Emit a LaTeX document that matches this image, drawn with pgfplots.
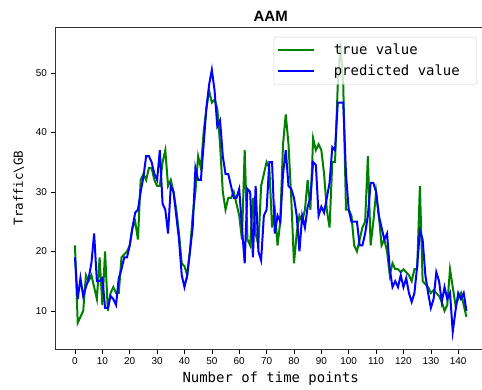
\documentclass[border=0pt]{standalone}
\usepackage{fontspec}
\setmainfont{Liberation Sans}
\newfontfamily\monofont{DejaVu Sans Mono}
\usepackage{pgfplots}
\usepackage{pgfplotstable}
\pgfplotsset{compat=1.18}
\definecolor{mplgreen}{rgb}{0,0.5,0}
\definecolor{mplblue}{rgb}{0,0,1}

\pgfplotstableread{
x true pred
0 21 19
1 8 12
2 9 15.5
3 10 12.5
4 16 14
5 15 15.5
6 16 18
7 14 23
8 12 15
9 19 15
10 11 15.5
11 20 10.5
12 10 10.5
13 13 12.5
14 14 12
15 13 11
16 13 15.5
17 19 17
18 19.5 19
19 20 19
20 21 21
21 24 24
22 25 26.5
23 22 27
24 32 30
25 33 32.5
26 32 36
27 34 36
28 34 35
29 32 33
30 31 32
31 31 37
32 35 28
33 37 27
34 31 23
35 32 31
36 30 30
37 27 26
38 23 22
39 18 16
40 17.5 14
41 16 16
42 20 20
43 26 24
44 30 34
45 36 32
46 34 32
47 40 38
48 44 44
49 47 48
50 45 50.5
51 45.5 47
52 44 41
53 38 42
54 30 36
55 27 33
56 29 33
57 29 31
58 30 29
59 28 29
60 26 30.5
61 22 24
62 37 18
63 22 30.5
64 21 30
65 29 19
66 23 31
67 21 20
68 31 18.5
69 33 26
70 35 27
71 34 35
72 24 35
73 27 23
74 21 26
75 25 25
76 38 33
77 43 37
78 38 31
79 29 30.5
80 18 29
81 23 26
82 26 20
83 25 26
84 27 24
85 32 27.5
86 27 29
87 39 35
88 37 34.5
89 38 26
90 37 27.5
91 33 26.5
92 27 29
93 24 31.5
94 35 37.5
95 35 37
96 48 45
97 55 45
98 48 45
99 27 33
100 27 27
101 26 25
102 21 25
103 20 25
104 22 21
105 24 21
106 25 23
107 36 26
108 21 31.5
109 25 31.5
110 30 30
111 26 26
112 21 24
113 22 22
114 20 23
115 16 17
116 18 14
117 17 15
118 17 14
119 16.5 16
120 17 14
121 16.5 15.5
122 16 13
123 15 11.5
124 17 13
125 17 17.5
126 31 23.5
127 15 22
128 14.5 16
129 14 13
130 13 10.5
131 13.5 12
132 13 16.5
133 12.5 15
134 11.5 11.5
135 10 14
136 11 12
137 17 13
138 14 6.5
139 11 10
140 12 13
141 13 12
142 11 13
143 9 10
}\datatable

\begin{document}
\begin{tikzpicture}
\useasboundingbox (-55.4bp,-41bp) rectangle (426.6bp,349bp);
\begin{axis}[
  at={(0,0)}, anchor=south west,
  scale only axis,
  width=430.6bp, height=322bp,
  xmin=-7.15, xmax=150.15,
  ymin=3.6, ymax=57.7,
  xtick={0,10,...,140},
  ytick={10,20,30,40,50},
  tick align=outside,
  tick pos=left,
  major tick length=4.5bp,
  tick style={black, line width=0.6bp},
  axis line style={black!80, line width=0.7bp},
  /pgf/number format/assume math mode=true,
  ticklabel style={font=\fontsize{10}{12}\selectfont},
  xticklabel style={yshift=-1bp},
  yticklabel style={xshift=-0.5bp},
  title={\fontsize{15}{17}\selectfont\bfseries AAM},
  title style={yshift=-4bp},
  xlabel={\monofont\fontsize{14}{16}\selectfont Number of time points},
  xlabel style={yshift=0bp},
  ylabel={\monofont\fontsize{12.5}{14}\selectfont Traffic\textbackslash GB},
  ylabel style={yshift=5bp},
  legend style={at={(0.979,0.969)}, anchor=north east,
    draw=black!20, rounded corners=2bp, fill=white, fill opacity=0.8, text opacity=1,
    font=\monofont\fontsize{14}{16}\selectfont,
    row sep=5bp, inner xsep=3bp, inner ysep=5bp,
    legend cell align=left},
  legend image code/.code={\draw[#1] (0bp,0bp) -- (36bp,0bp);},
]
\addplot[mplgreen, line width=2bp] table[x=x, y=true] {\datatable};
\addlegendentry{\hspace{17bp}true value}
\addplot[mplblue, line width=2bp] table[x=x, y=pred] {\datatable};
\addlegendentry{\hspace{17bp}predicted value\rule{12bp}{0pt}}
\end{axis}
\end{tikzpicture}
\end{document}
